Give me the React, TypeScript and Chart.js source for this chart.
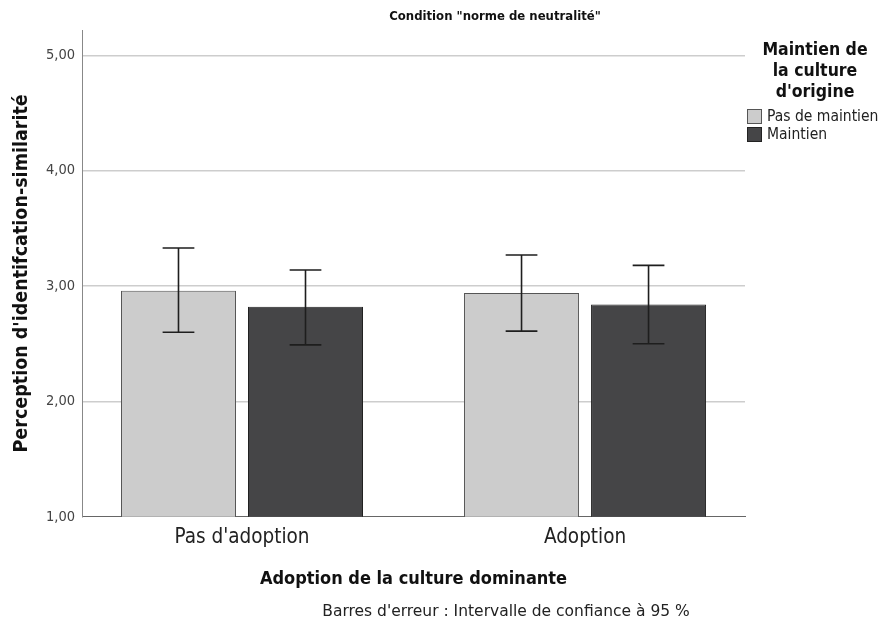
import React, { useEffect, useRef } from 'react';
import { Chart, registerables } from 'chart.js';

Chart.register(...registerables);

// ---- data ----
const categories = ["Pas d'adoption", 'Adoption'];
const seriesLabels = ['Pas de maintien', 'Maintien'];
const meansPasMaintien = [2.96, 2.94];
const meansMaintien = [2.82, 2.84];
const ciLowPasMaintien = [2.60, 2.61];
const ciHighPasMaintien = [3.33, 3.27];
const ciLowMaintien = [2.49, 2.50];
const ciHighMaintien = [3.14, 3.18];
const yTicks = [1, 2, 3, 4, 5];
const yMin = 1;
const yMax = 5.22;
const chartTitle = 'Condition "norme de neutralité"';
const legendTitle = ['Maintien de', 'la culture', "d'origine"];
const xTitle = 'Adoption de la culture dominante';
const yTitle = "Perception d'identifcation-similarité";
const footnote = "Barres d'erreur : Intervalle de confiance à 95 %";

const FONT = '"DejaVu Sans Condensed", "Liberation Sans Narrow", "Open Sans", sans-serif';
const FONT_WIDE = '"DejaVu Sans", "Open Sans", sans-serif';
const COLORS = ['#cccccc', '#454547'];
const BORDERS = ['#555555', '#222222'];

const errorBarPlugin = {
  id: 'errorBars',
  afterDatasetsDraw(chart: any) {
    const ctx = chart.ctx;
    const y = chart.scales.y;
    const lows = [ciLowPasMaintien, ciLowMaintien];
    const highs = [ciHighPasMaintien, ciHighMaintien];
    chart.data.datasets.forEach((_ds: any, i: number) => {
      const meta = chart.getDatasetMeta(i);
      meta.data.forEach((bar: any, j: number) => {
        const x = bar.x;
        const yl = y.getPixelForValue(lows[i][j]);
        const yh = y.getPixelForValue(highs[i][j]);
        const cap = bar.width * 0.138;
        ctx.save();
        ctx.strokeStyle = '#1e1e1e';
        ctx.lineWidth = 1.6;
        ctx.beginPath();
        ctx.moveTo(x, yh);
        ctx.lineTo(x, yl);
        ctx.moveTo(x - cap, yh);
        ctx.lineTo(x + cap, yh);
        ctx.moveTo(x - cap, yl);
        ctx.lineTo(x + cap, yl);
        ctx.stroke();
        ctx.restore();
      });
    });
  },
};

const textPlugin = {
  id: 'texts',
  afterDraw(chart: any) {
    const { ctx, chartArea } = chart;
    ctx.save();
    ctx.textAlign = 'center';
    ctx.textBaseline = 'middle';
    ctx.fillStyle = '#111';
    ctx.font = `bold 13px ${FONT}`;
    ctx.fillText(chartTitle, 495, 17);
    ctx.font = `15.5px ${FONT_WIDE}`;
    ctx.fillStyle = '#222';
    ctx.fillText(footnote, 506, 612);

    const lx = chartArea.right + 2;
    ctx.font = `bold 17.5px ${FONT}`;
    ctx.fillStyle = '#111';
    legendTitle.forEach((t, i) => ctx.fillText(t, lx + 68, 50 + i * 21));
    chart.data.datasets.forEach((ds: any, i: number) => {
      const by = 109 + i * 18;
      ctx.fillStyle = ds.backgroundColor;
      ctx.fillRect(lx, by, 14, 14);
      ctx.strokeStyle = ds.borderColor;
      ctx.lineWidth = 1;
      ctx.strokeRect(lx + 0.5, by + 0.5, 14, 14);
      ctx.fillStyle = '#222';
      ctx.font = `15.5px ${FONT}`;
      ctx.textAlign = 'left';
      ctx.fillText(ds.label, lx + 20, by + 7.5);
    });
    ctx.restore();
  },
};

export default function App() {
  const ref = useRef<HTMLCanvasElement | null>(null);
  useEffect(() => {
    if (!ref.current) return;
    const chart = new Chart(ref.current, {
      type: 'bar',
      data: {
        labels: categories,
        datasets: [
          {
            label: seriesLabels[0],
            data: meansPasMaintien,
            backgroundColor: COLORS[0],
            borderColor: BORDERS[0],
            borderWidth: 1,
            categoryPercentage: 0.7405,
            barPercentage: 0.9055,
          },
          {
            label: seriesLabels[1],
            data: meansMaintien,
            backgroundColor: COLORS[1],
            borderColor: BORDERS[1],
            borderWidth: 1,
            categoryPercentage: 0.7405,
            barPercentage: 0.9055,
          },
        ],
      },
      options: {
        responsive: false,
        animation: false,
        layout: { padding: { top: 30, right: 140, bottom: 33, left: 0 } },
        plugins: {
          legend: { display: false },
          tooltip: { enabled: false },
          title: { display: false },
        },
        scales: {
          x: {
            type: 'category',
            grid: { display: false },
            border: { display: true, color: '#666', width: 1 },
            ticks: { font: { family: FONT, size: 20.5 }, color: '#222', padding: 1 },
            title: {
              display: true,
              text: xTitle,
              font: { family: FONT, size: 18, weight: 'bold' },
              color: '#111',
              padding: { top: 17, bottom: 0 },
            },
            afterBuildTicks: (s: any) => {
              s._startValue = -0.4664;
              s._valueRange = 1.9327;
            },
          },
          y: {
            type: 'linear',
            min: yMin,
            max: yMax,
            afterBuildTicks: (s: any) => {
              s.ticks = yTicks.map((v) => ({ value: v }));
            },
            afterFit: (s: any) => {
              s.width = 82;
            },
            grid: {
              color: (c: any) => (c.tick && c.tick.value === yMin ? 'rgba(0,0,0,0)' : '#cdcdcd'),
              lineWidth: 1.5,
              drawTicks: false,
            },
            border: { display: true, color: '#888', width: 1 },
            ticks: {
              font: { family: FONT, size: 14.5 },
              color: '#444',
              padding: 7,
              callback: (v: any) => Number(v).toFixed(2).replace('.', ','),
            },
            title: {
              display: true,
              text: yTitle,
              font: { family: FONT, size: 19.5, weight: 'bold' },
              color: '#111',
              padding: { top: 10, bottom: 0 },
            },
          },
        },
      },
      plugins: [errorBarPlugin, textPlugin],
    } as any);
    return () => chart.destroy();
  }, []);
  return (
    <div style={{ position: 'absolute', left: 0, top: 0, width: 885, height: 623 }}>
      <canvas ref={ref} width={885} height={623} />
    </div>
  );
}
